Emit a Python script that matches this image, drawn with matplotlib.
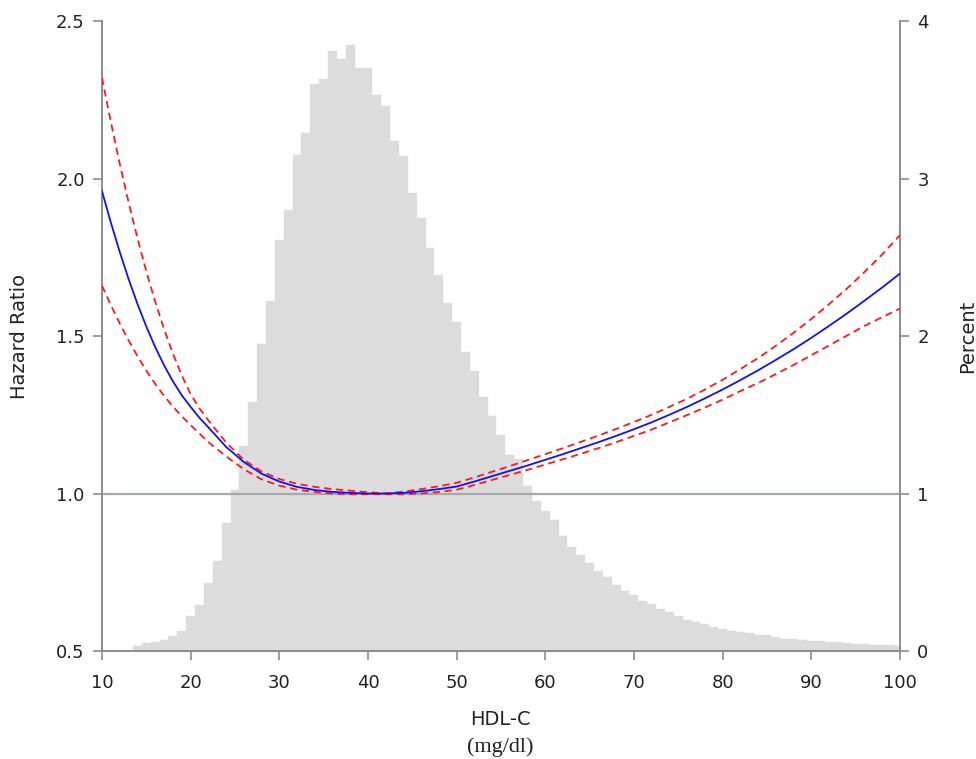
import matplotlib
matplotlib.use("Agg")
import matplotlib.pyplot as plt

# ---------------- data ----------------
# histogram of HDL-C (percent per 1 mg/dl bin, bin centres)
hist_x = list(range(14, 101))
hist_pct = [0.03, 0.05, 0.06, 0.07, 0.095, 0.13, 0.22, 0.29, 0.43, 0.57,
            0.81, 1.02, 1.30, 1.58, 1.95, 2.22, 2.61, 2.80, 3.15, 3.29,
            3.60, 3.63, 3.81, 3.76, 3.85, 3.70, 3.70, 3.53, 3.46, 3.24,
            3.14, 2.91, 2.75, 2.56, 2.39, 2.21, 2.09, 1.90, 1.78, 1.61,
            1.49, 1.37, 1.245, 1.22, 1.045, 0.95, 0.89, 0.83, 0.73, 0.66,
            0.61, 0.56, 0.51, 0.47, 0.42, 0.38, 0.355, 0.32, 0.30, 0.265,
            0.25, 0.22, 0.197, 0.184, 0.17, 0.155, 0.14, 0.13, 0.123, 0.112,
            0.10, 0.10, 0.087, 0.078, 0.076, 0.07, 0.065, 0.061, 0.057, 0.055,
            0.051, 0.047, 0.045, 0.04, 0.038, 0.036, 0.032]

# hazard ratio curve and 95% CI
hr_x = [10, 11, 12, 13, 14, 15, 16, 17, 18, 19, 20, 21, 22, 24, 26, 28, 30,
        32, 34, 36, 38, 40, 42, 44, 46, 48, 50, 52, 54, 56, 58, 60, 62, 64,
        66, 68, 70, 72, 74, 76, 78, 80, 82, 84, 86, 88, 90, 92, 94, 96, 98,
        100]
hr = [1.96, 1.86, 1.767, 1.681, 1.602, 1.53, 1.465, 1.407, 1.356, 1.312,
      1.275, 1.24, 1.21, 1.148, 1.10, 1.063, 1.038, 1.021, 1.011, 1.005,
      1.002, 1.0, 1.0, 1.002, 1.007, 1.014, 1.022, 1.038, 1.055, 1.072,
      1.089, 1.107, 1.125, 1.144, 1.163, 1.183, 1.204, 1.226, 1.25, 1.275,
      1.302, 1.33, 1.36, 1.391, 1.424, 1.458, 1.494, 1.532, 1.571, 1.612,
      1.654, 1.698]
hr_upper = [2.32, 2.179, 2.047, 1.924, 1.81, 1.705, 1.609, 1.522, 1.444,
            1.375, 1.315, 1.27, 1.232, 1.162, 1.107, 1.07, 1.046, 1.031,
            1.021, 1.014, 1.009, 1.004, 1.0, 1.006, 1.014, 1.023, 1.034,
            1.051, 1.069, 1.087, 1.106, 1.125, 1.144, 1.164, 1.184, 1.205,
            1.227, 1.25, 1.275, 1.301, 1.33, 1.361, 1.395, 1.43, 1.469, 1.51,
            1.554, 1.601, 1.65, 1.703, 1.759, 1.82]
hr_lower = [1.66, 1.598, 1.54, 1.486, 1.436, 1.39, 1.348, 1.31, 1.276, 1.245,
            1.217, 1.19, 1.163, 1.118, 1.077, 1.045, 1.025, 1.012, 1.005, 1.0,
            0.998, 0.998, 0.998, 0.998, 1.0, 1.005, 1.012, 1.027, 1.043,
            1.059, 1.075, 1.092, 1.109, 1.126, 1.144, 1.163, 1.183, 1.203,
            1.226, 1.249, 1.273, 1.298, 1.325, 1.351, 1.379, 1.408, 1.439,
            1.47, 1.501, 1.532, 1.56, 1.587]

x_ticks = [10, 20, 30, 40, 50, 60, 70, 80, 90, 100]
hr_ticks = [0.5, 1.0, 1.5, 2.0, 2.5]
pct_ticks = [0, 1, 2, 3, 4]

# ---------------- plot ----------------
plt.rcParams['font.family'] = ['DejaVu Sans']
axis_col = '#8c8c8c'
text_col = '#222222'

fig = plt.figure(figsize=(9.76, 7.59), dpi=100)
ax = fig.add_axes([0.1045, 0.1423, 0.8175, 0.83])
ax2 = ax.twinx()

ax2.bar(hist_x, hist_pct, width=1.0, color='#dcdcdc', edgecolor='#dcdcdc',
        linewidth=0.3, zorder=1)
ax2.set_ylim(0, 4)
ax2.set_yticks(pct_ticks)

ax.set_zorder(ax2.get_zorder() + 1)
ax.patch.set_visible(False)

ax.axhline(1.0, color='#a3a9ad', lw=1.6, zorder=2)
ax.plot(hr_x, hr_upper, color='#ff1a1a', lw=1.3, ls=(0, (4, 2.6)), zorder=3)
ax.plot(hr_x, hr_lower, color='#ff1a1a', lw=1.3, ls=(0, (4, 2.6)), zorder=3)
ax.plot(hr_x, hr, color='#1010ff', lw=1.3, zorder=4)

ax.set_xlim(10, 100)
ax.set_ylim(0.5, 2.5)
ax.set_xticks(x_ticks)
ax.set_yticks(hr_ticks)
ax.set_yticklabels([f"{v:.1f}" for v in hr_ticks])

for a in (ax, ax2):
    for s in a.spines.values():
        s.set_color(axis_col)
        s.set_linewidth(1.2)
    a.spines['top'].set_visible(False)
    a.tick_params(colors=axis_col, labelcolor=text_col, labelsize=13,
                  length=6.5, width=1.2)
ax.tick_params(axis='y', pad=6)
ax2.tick_params(axis='y', pad=6)
ax.tick_params(axis='x', pad=10)

ax.set_ylabel("Hazard Ratio", fontsize=14, color=text_col)
ax.yaxis.set_label_coords(-0.0915, 0.5)
ax2.set_ylabel("Percent", fontsize=14, color=text_col)
ax2.yaxis.set_label_coords(1.0727, 0.5)
ax.set_xlabel("HDL-C", fontsize=14, color=text_col)
ax.xaxis.set_label_coords(0.5, -0.094)
fig.text(0.513, 0.016, "(mg/dl)", fontsize=16, family='Liberation Serif',
         color=text_col, ha='center', va='center')

fig.savefig("out.png", dpi=100)
